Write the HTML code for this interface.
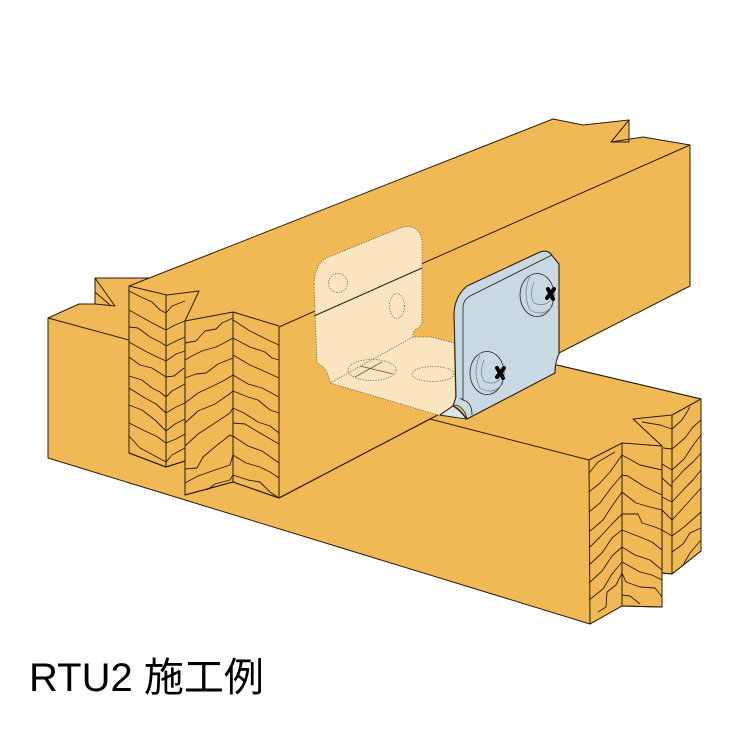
<!DOCTYPE html>
<html><head><meta charset="utf-8"><style>
html,body{margin:0;padding:0;background:#fff;width:750px;height:750px;overflow:hidden}
svg{display:block}
</style></head><body>
<svg width="750" height="750" viewBox="0 0 750 750" xmlns="http://www.w3.org/2000/svg">
<g stroke="#2a1c08" stroke-width="1" stroke-linejoin="round" fill="none">
<!-- lower beam -->
<path fill="#f0b955" d="M48 318L79 304L95 304L95 278L150 278L300 330L557 365L701 399L701 551L672 574L662 573L662 607L622 606L590 624L48 458Z"/>
<!-- upper beam -->
<path fill="#f0b955" d="M129 286L553 119L583 125L629 120L629 142L611 142L643 137L690 145L690 286L559 353L430 419L279 498L233 482L185 495L185 461L166 467L129 453Z"/>
<!-- edges -->
<path d="M95 278L115 306L95 304M95 292L110 305M48 318L129 340M279 327L690 145M279 327L279 498M629 120L611 142"/>
<path d="M430 419L279 498M430 419L589 460M557 365L701 399"/>
<!-- end faces left -->
<path d="M129 286L167 295L199 291L185 321L233 312L279 326M129 286L129 453L166 467L185 461M166 295L166 467M185 321L185 495L233 482L279 498M233 312L233 482"/>
<g stroke-width=".9">
<path d="M129 291L141 297L152 302L160 310L166 313M129 310L145 319L158 326L166 330M129 327L138 328L150 337L160 342L166 346M129 342L145 351L155 356L166 361M129 357L140 365L152 368L166 377M129 376L142 380L152 388L160 392L166 397M129 388L145 398L156 404L166 413M129 405L142 410L155 420L166 431M129 423L145 431L156 436L166 443M129 436L140 448L155 456L166 462"/>
<path d="M166 313L172 306L185 301M166 330L175 325L185 321M166 346L176 341L185 337M166 361L176 354L185 351M166 377L174 376L184 368M166 397L172 391L185 384M166 413L176 407L185 403M166 431L175 424L185 419M166 443L176 439L185 434M166 462L172 455L185 448"/>
<path d="M185 343L196 341L205 331L216 329L222 323L233 318M185 360L190 357L202 351L216 347L226 342L233 338M185 378L196 374L206 373L218 364L233 358M185 403L198 393L215 385L225 380L233 375M185 423L198 411L215 404L228 395L233 391M185 446L198 434L215 423L230 413L233 408M185 469L197 468L203 457L216 446L230 435L233 437M185 483L198 476L215 470L230 465L233 455M207 490L215 484L230 480L233 475"/>
<path d="M233 320L250 331L268 340L279 345M233 338L250 347L265 352L272 358L279 360M233 355L250 365L266 372L279 378M233 375L248 384L262 388L279 397M233 391L248 397L258 400L270 410L279 413M233 408L244 413L258 422L270 426L279 433M233 423L245 424L260 433L279 444M233 436L248 446L262 451L279 463M233 455L246 463L260 467L270 472L279 478M233 475L248 480L260 482L270 492L279 498"/>
</g>
<!-- end faces right -->
<path d="M589 460L622 443L662 446L633 419L672 415L701 399L701 551L672 574L662 573L662 607L622 606L590 624L589 460M622 443L622 606M662 446L662 607M672 415L672 574"/>
<g stroke-width=".9">
<path d="M589 473L598 462L608 456L615 452M589 492L600 483L610 472L622 455M589 512L600 503L611 488L622 475M589 532L603 520L612 506L622 492M589 548L600 537L612 524L622 514M589 565L602 553L612 538L622 530M589 583L602 571L612 556L622 547M589 600L603 589L612 574L622 562M598 612L606 607L607 592L616 585L622 573"/>
<path d="M622 455L640 465L662 470M622 475L628 476L645 487L662 495M622 492L636 503L650 507L662 510M622 514L638 514L642 523L655 527L662 530M622 530L640 537L652 542L662 550M622 547L635 555L650 560L662 570M622 562L640 572L652 575L662 580M622 573L626 582L640 587L655 588L662 597M622 595L630 596L640 604"/>
<path d="M642 422L660 425L672 429M663 448L672 449M662 464L672 470M662 478L672 487M662 497L672 502M662 510L672 520M662 530L672 536"/>
<path d="M672 429L682 420L690 407M672 449L685 438L693 427L701 420M672 470L684 459L694 444L701 435M672 483L684 470L694 461L701 453M672 502L685 488L693 480L701 470M672 520L684 507L693 497L701 488M672 536L684 527L692 520L701 512M672 552L683 544L690 533L701 528M683 565L690 553L701 540"/>
</g>
<!-- ghost bracket -->
<path fill="#fbe5c1" stroke="#6b5a3a" stroke-width=".8" stroke-dasharray="1.2 1.4" d="M314 284Q315 265 326 258L400 228Q418 222 422 240L422 323L420 327Q412 330 413 337L432 337L454 343L456 418L438 415L330 383Q328 368 317 363Z"/>
<g stroke="#6b5a3a" stroke-width=".8" stroke-dasharray="1.2 1.4">
<circle cx="338" cy="283" r="9.5"/>
<ellipse cx="397" cy="306" rx="7.5" ry="12.5"/>
<ellipse cx="372" cy="370" rx="24" ry="10.5"/>
<ellipse cx="433" cy="374" rx="21" ry="7.5"/>
<path d="M330 383L413 337"/>
<path d="M355 377L382 362M360 366L393 374" stroke-dasharray="none"/>
</g>
<path d="M314 316L422 268" stroke="#2a1c08"/>
<!-- blue bracket -->
<path fill="#c9d9e4" stroke-width="1.1" d="M454 313Q455 296 467 286L540 252Q546 250 550 253L559 264L559 354Q555 362 555 373L467 419L440 415L453 406L456 397Z"/>
<path fill="#f0cc80" stroke-width=".8" d="M456 405Q465 408 467 419Q458 406 452 406Z"/>
<path fill="#dbe6ee" stroke-width=".8" d="M440 415L453 406Q462 412 466 419Z"/>
<path stroke-width=".8" d="M552 255L470 296Q463 300 463 308L463 400Q472 402 472 415M463 400L460 398"/>
<!-- screws -->
<g stroke-width=".8">
<ellipse cx="537" cy="295" rx="17" ry="21.5"/>
<ellipse cx="487" cy="373" rx="17" ry="21.5"/>
<g stroke="#6d7a85" stroke-width=".7">
<path d="M530 276Q522 293 530 310Q544 318 553 305M534 282Q529 295 534 303Q544 307 550 301"/>
<path d="M480 355Q472 372 480 388Q494 396 503 383M484 360Q479 373 484 381Q494 386 500 379"/>
</g>
</g>
<g stroke="#000" stroke-width="4" stroke-linecap="round">
<path d="M548 289L553 299M554 289L547 298"/>
<path d="M497 368L503 378M504 368L497 377"/>
</g>
</g>
<text x="29" y="691" font-family="'Liberation Sans','Noto Sans CJK JP',sans-serif" font-size="40" fill="#000">RTU2 施工例</text>
</svg>
</body></html>
